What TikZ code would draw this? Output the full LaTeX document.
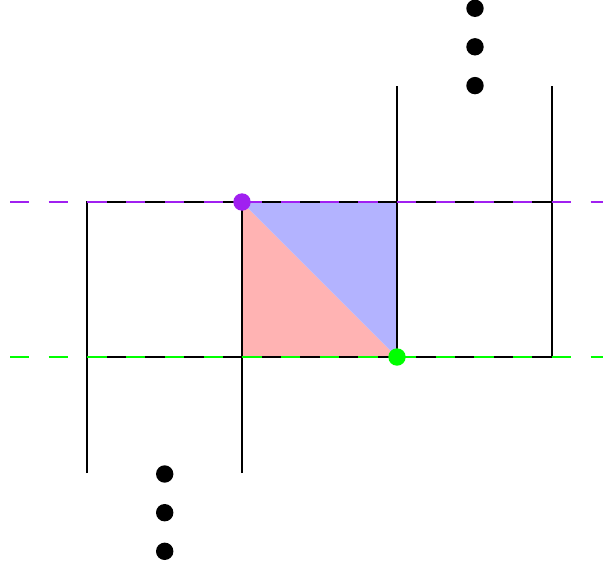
\documentclass[tikz,border=0pt]{standalone}
\definecolor{dpurple}{RGB}{160,32,240}
\definecolor{dgreen}{RGB}{0,255,0}
\definecolor{tpink}{RGB}{255,179,179}
\definecolor{tblue}{RGB}{179,179,255}
\begin{document}
\begin{tikzpicture}[x=1pt,y=-1pt,
  gridline/.style={black,line width=1.8pt},
  guide/.style={line width=1.8pt,dash pattern=on 19.35pt off 19.35pt},
  dotblack/.style={fill=black}]
\useasboundingbox (0,0) rectangle (603,565);
% triangles
\fill[tpink] (242,202) -- (242,357) -- (397,357) -- cycle;
\fill[tblue] (242,202) -- (397,202) -- (397,357) -- cycle;
% grid
\draw[gridline] (87,473) -- (87,202) -- (552,202);
\draw[gridline] (87,357) -- (552,357) -- (552,86);
\draw[gridline] (242,473) -- (242,202);
\draw[gridline] (397,86) -- (397,357);
% guides
\draw[guide,dpurple] (10,202) -- (603,202);
\draw[guide,dgreen] (10,357) -- (603,357);
% colored points
\fill[dpurple] (242,202) circle (8.7);
\fill[dgreen] (397,357) circle (8.7);
% ellipsis dots
\foreach \y in {8.3,46.8,85.6} \fill[dotblack] (475,\y) circle (8.7);
\foreach \y in {474,512.7,551.3} \fill[dotblack] (164.7,\y) circle (8.7);
\end{tikzpicture}
\end{document}
